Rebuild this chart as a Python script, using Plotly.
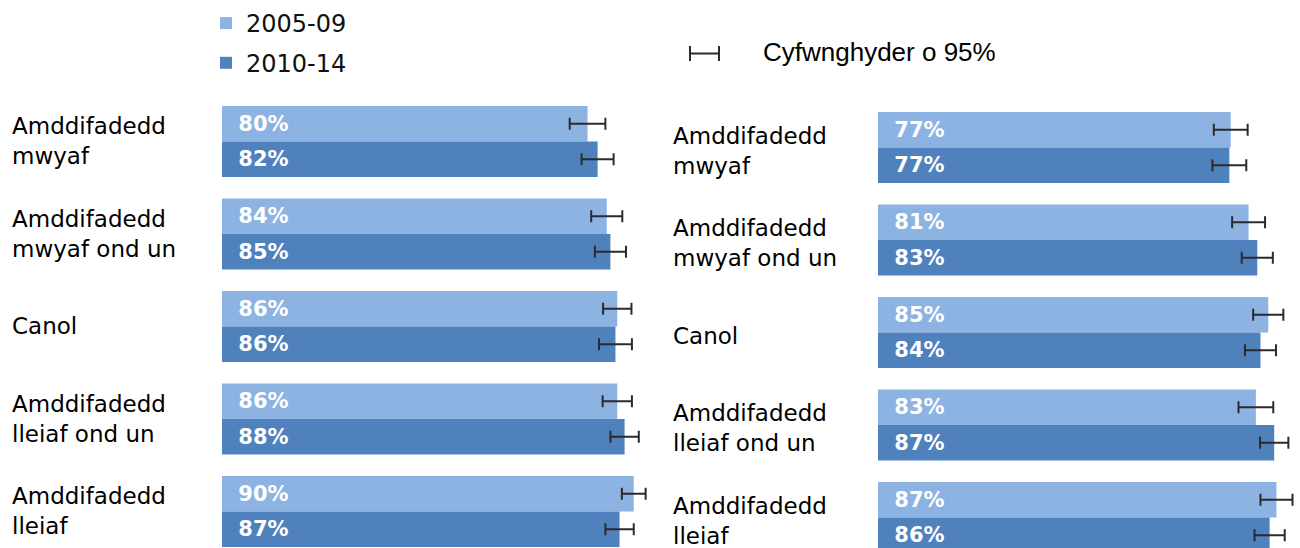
import plotly.graph_objects as go

W, H = 1300, 548

categories = ["Amddifadedd mwyaf", "Amddifadedd mwyaf ond un", "Canol",
              "Amddifadedd lleiaf ond un", "Amddifadedd lleiaf"]
tick_labels = ["Amddifadedd<br>mwyaf", "Amddifadedd<br>mwyaf ond un", "Canol",
               "Amddifadedd<br>lleiaf ond un", "Amddifadedd<br>lleiaf"]
series_names = ["2005-09", "2010-14"]

left_2005 = [79.9, 84.1, 86.4, 86.4, 90.0]
left_2005_err = [3.9, 3.4, 3.1, 3.2, 2.6]
left_2010 = [82.1, 84.9, 86.0, 88.0, 86.9]
left_2010_err = [3.5, 3.4, 3.6, 3.1, 3.1]

right_2005 = [77.1, 81.0, 85.3, 82.6, 87.1]
right_2005_err = [3.7, 3.6, 3.3, 3.8, 3.5]
right_2010 = [76.8, 82.9, 83.6, 86.6, 85.6]
right_2010_err = [3.7, 3.4, 3.4, 3.1, 3.3]

ci_label = "Cyfwnghyder o 95%"

LIGHT = "#8DB3E2"
DARK = "#4F81BD"
ERR = "#2b2b2b"
BAR_FONT = dict(family="DejaVu Sans", size=21, color="white")
NB = "\u00a0\u00a0"

fig = go.Figure()

def add_bar(vals, errs, color, name, xa, ya, show):
    fig.add_trace(go.Bar(
        y=categories, x=vals, orientation="h", name=name,
        marker=dict(color=color, line=dict(width=0)),
        error_x=dict(type="data", array=errs, color=ERR, thickness=2, width=6),
        texttemplate=NB + "<b>%{x:.0f}%</b>", textposition="inside",
        insidetextanchor="start", textangle=0, insidetextfont=BAR_FONT,
        xaxis=xa, yaxis=ya, showlegend=show, legendgroup=name,
        hoverinfo="skip",
    ))

add_bar(left_2005, left_2005_err, LIGHT, series_names[0], "x", "y", True)
add_bar(left_2010, left_2010_err, DARK, series_names[1], "x", "y", True)
add_bar(right_2005, right_2005_err, LIGHT, series_names[0], "x2", "y2", False)
add_bar(right_2010, right_2010_err, DARK, series_names[1], "x2", "y2", False)

step = 92.5
lc0, rc0 = 141.4, 147.5
yl_range = [(H - lc0) / step, -lc0 / step]
yr_range = [(H - rc0) / step, -rc0 / step]

ax_common = dict(showgrid=False, zeroline=False, showline=False,
                 showticklabels=False, ticks="", fixedrange=True)

fig.update_layout(
    width=W, height=H,
    margin=dict(l=0, r=0, t=0, b=0),
    paper_bgcolor="white", plot_bgcolor="white",
    barmode="group", bargap=0.232, bargroupgap=0,
    xaxis=dict(domain=[222 / W, (222 + 457.5) / W], range=[0, 100], **ax_common),
    xaxis2=dict(domain=[878 / W, 1.0], range=[0, 422 / 4.575], anchor="y2", **ax_common),
    yaxis=dict(domain=[0, 1], range=yl_range, anchor="x", **ax_common),
    yaxis2=dict(domain=[0, 1], range=yr_range, anchor="x2", **ax_common),
    legend=dict(x=206 / W, y=1 - 1 / H, xanchor="left", yanchor="top",
                traceorder="grouped", tracegroupgap=5.5,
                font=dict(family="DejaVu Sans", size=24, color="#111111"),
                bgcolor="rgba(0,0,0,0)"),
    font=dict(family="DejaVu Sans"),
)

annotations = []
for i, lab in enumerate(tick_labels):
    annotations.append(dict(x=10 / W, xref="paper", y=categories[i], yref="y",
                            text=lab, showarrow=False, xanchor="left", yanchor="middle",
                            align="left", font=dict(family="DejaVu Sans", size=23, color="#000")))
    annotations.append(dict(x=671 / W, xref="paper", y=categories[i], yref="y2",
                            text=lab, showarrow=False, xanchor="left", yanchor="middle",
                            align="left", yshift=-3,
                            font=dict(family="DejaVu Sans", size=23, color="#000")))
annotations.append(dict(x=761 / W, xref="paper", y=1 - 52 / H, yref="paper",
                        text=ci_label, showarrow=False, xanchor="left", yanchor="middle",
                        font=dict(family="Liberation Sans", size=26, color="#000")))
fig.update_layout(annotations=annotations)

def py(p):
    return 1 - p / H

shape_line = dict(color=ERR, width=2)
fig.add_shape(type="line", xref="paper", yref="paper", x0=690 / W, x1=719 / W,
              y0=py(53.5), y1=py(53.5), line=shape_line)
fig.add_shape(type="line", xref="paper", yref="paper", x0=690 / W, x1=690 / W,
              y0=py(46), y1=py(61), line=shape_line)
fig.add_shape(type="line", xref="paper", yref="paper", x0=719 / W, x1=719 / W,
              y0=py(46), y1=py(61), line=shape_line)

fig.write_html("out.html", config={"displayModeBar": False},
               post_script="document.body.style.margin='0';document.body.style.overflow='hidden';")
